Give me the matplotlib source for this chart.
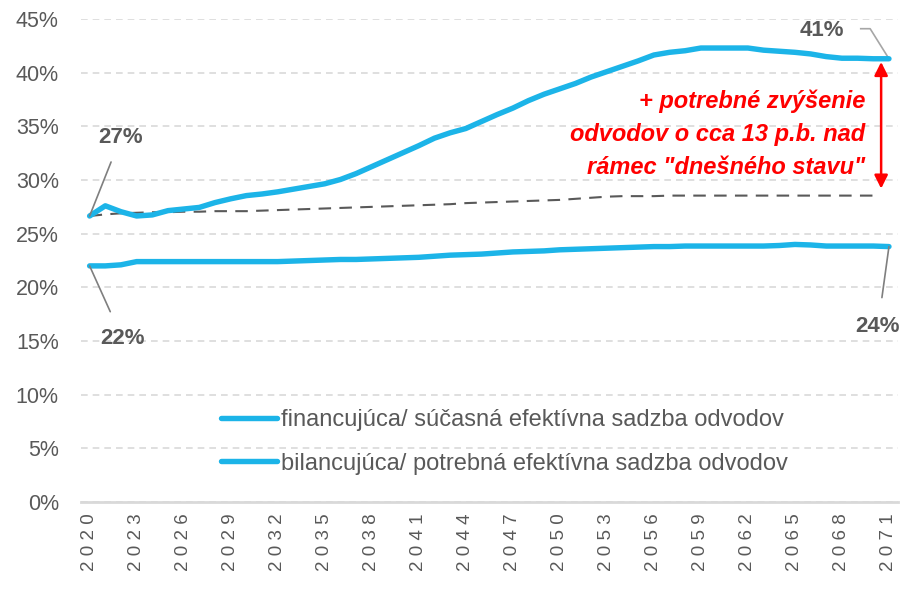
import matplotlib
matplotlib.use("Agg")
import matplotlib.pyplot as plt

# roky a sadzby (v %)
roky = list(range(2020, 2072))
bilancujuca = [26.65, 27.6, 27.05, 26.65, 26.75, 27.15, 27.3, 27.45, 27.9, 28.25,
               28.55, 28.7, 28.9, 29.15, 29.4, 29.65, 30.05, 30.6, 31.25, 31.9,
               32.55, 33.2, 33.9, 34.4, 34.8, 35.45, 36.1, 36.7, 37.4, 38.0,
               38.5, 39.0, 39.6, 40.1, 40.6, 41.1, 41.65, 41.9, 42.05, 42.3,
               42.3, 42.3, 42.3, 42.1, 42.0, 41.9, 41.75, 41.5, 41.35, 41.35,
               41.3, 41.3]
financujuca = [22.0, 22.0, 22.1, 22.4, 22.4, 22.4, 22.4, 22.4, 22.4, 22.4,
               22.4, 22.4, 22.4, 22.45, 22.5, 22.55, 22.6, 22.6, 22.65, 22.7,
               22.75, 22.8, 22.9, 23.0, 23.05, 23.1, 23.2, 23.3, 23.35, 23.4,
               23.5, 23.55, 23.6, 23.65, 23.7, 23.75, 23.8, 23.8, 23.85, 23.85,
               23.85, 23.85, 23.85, 23.85, 23.9, 24.0, 23.95, 23.85, 23.85, 23.85,
               23.85, 23.8]
dnesny_stav = [26.65, 26.8, 26.9, 26.95, 27.0, 27.0, 27.05, 27.05, 27.1, 27.1,
               27.1, 27.15, 27.2, 27.25, 27.3, 27.35, 27.4, 27.45, 27.5, 27.55,
               27.6, 27.65, 27.7, 27.75, 27.85, 27.9, 27.95, 28.0, 28.05, 28.1,
               28.15, 28.25, 28.35, 28.45, 28.5, 28.5, 28.5, 28.55, 28.55, 28.55,
               28.55, 28.55, 28.55, 28.55, 28.55, 28.55, 28.55, 28.55, 28.55, 28.55,
               28.55]
popisky = ["financujúca/ súčasná efektívna sadzba odvodov",
           "bilancujúca/ potrebná efektívna sadzba odvodov"]
tick_roky = list(range(2020, 2072, 3))
y_ticky = list(range(0, 50, 5))

modra = "#1cb4e8"
seda = "#595959"
plt.rcParams['font.family'] = ['Liberation Sans', 'DejaVu Sans']

fig = plt.figure(figsize=(9.04, 5.99), dpi=100)
ax = fig.add_axes([0.0896, 0.1619, 0.9033, 0.8063])

ax.plot(roky, financujuca, color=modra, lw=3.9, solid_capstyle='round', label=popisky[0], zorder=3)
ax.plot(roky, bilancujuca, color=modra, lw=3.9, solid_capstyle='round', label=popisky[1], zorder=3)
ax.plot(roky[:len(dnesny_stav)], dnesny_stav, color=seda, lw=1.5, ls=(0, (6, 4)), zorder=2)

ax.set_xlim(2019.45, 2071.55)
ax.set_ylim(0, 45)
ax.set_xticks(tick_roky)
ax.set_xticklabels([" ".join(str(r)) for r in tick_roky], rotation=90, fontsize=13.5, color=seda)
ax.set_yticks(y_ticky)
ax.set_yticklabels([f"{v}%" for v in y_ticky], fontsize=15.5, color=seda)
ax.tick_params(axis='both', length=0)
ax.tick_params(axis='y', pad=16)
ax.tick_params(axis='x', pad=8)

ax.grid(axis='y', color='#d9d9d9', ls=(0, (4, 3)), lw=1.2)
ax.set_axisbelow(True)
for s in ['left', 'right', 'top']:
    ax.spines[s].set_visible(False)
ax.spines['bottom'].set_color('#d9d9d9')
ax.spines['bottom'].set_linewidth(2)

# popisky hodnot
lab = dict(fontsize=16, fontweight='bold', color=seda, ha='center', va='center')
ax.annotate("27%", xy=(2020, bilancujuca[0]), xytext=(2022.0, 34.0),
            arrowprops=dict(arrowstyle='-', color='#7f7f7f', lw=1.2, shrinkA=9, shrinkB=0), **lab)
ax.annotate("22%", xy=(2020, financujuca[0]), xytext=(2022.1, 15.2),
            arrowprops=dict(arrowstyle='-', color='#7f7f7f', lw=1.2, shrinkA=11, shrinkB=0), **lab)
ax.annotate("24%", xy=(2071, financujuca[-1]), xytext=(2070.3, 16.4),
            arrowprops=dict(arrowstyle='-', color='#7f7f7f', lw=1.2, shrinkA=11, shrinkB=0), **lab)
ax.text(2066.7, 43.9, "41%", **lab)
ax.plot([2069.2, 2069.8, 2071], [44.1, 44.1, bilancujuca[-1]], color='#a6a6a6', lw=1.2, clip_on=False)

ax.text(2069.5, 34.3, '+ potrebné zvýšenie\nodvodov o cca 13 p.b. nad\nrámec "dnešného stavu"',
        ha='right', va='center', color='#ff0000', fontsize=17, fontweight='bold', style='italic',
        linespacing=1.55)
ax.annotate("", xy=(2070.5, 41.0), xytext=(2070.5, 29.2),
            arrowprops=dict(arrowstyle='<|-|>', color='#ff0000', lw=1.8, mutation_scale=20,
                            shrinkA=0, shrinkB=0))

leg = ax.legend(loc='upper left', bbox_to_anchor=(0.145, 0.236), frameon=False, fontsize=17,
                handlelength=2.4, handletextpad=0.15, labelspacing=0.9)
for t in leg.get_texts():
    t.set_color(seda)

fig.savefig("out.png", dpi=100)
